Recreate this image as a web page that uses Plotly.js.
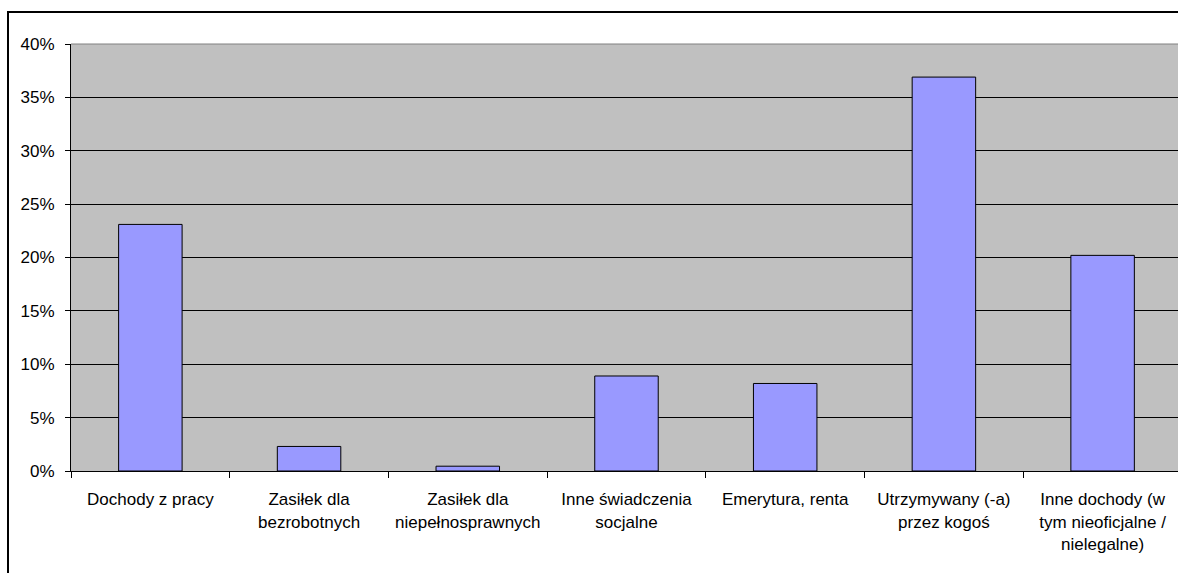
<!DOCTYPE html>
<html>
<head>
<meta charset="utf-8">
<script src="https://cdn.plot.ly/plotly-3.0.1.min.js"></script>
<style>
html, body { margin: 0; padding: 0; background: #ffffff; overflow: hidden; }
#frame { position: absolute; left: 7px; top: 11px; width: 1300px; height: 700px;
  border-left: 2px solid #000; border-top: 2px solid #000; pointer-events: none; }
#chart { position: absolute; left: 0; top: 0; width: 1178px; height: 573px; }
</style>
</head>
<body>
<div id="frame"></div>
<div id="chart"></div>
<script>
var categories = [
  "Dochody z pracy",
  "Zasiłek dla<br>bezrobotnych",
  "Zasiłek dla<br>niepełnosprawnych",
  "Inne świadczenia<br>socjalne",
  "Emerytura, renta",
  "Utrzymywany (-a)<br>przez kogoś",
  "Inne dochody (w<br>tym nieoficjalne /<br>nielegalne)"
];
var values = [23.1, 2.3, 0.45, 8.9, 8.2, 36.9, 20.2];
var yTicks = [0, 5, 10, 15, 20, 25, 30, 35, 40];

var trace = {
  type: 'bar',
  x: categories,
  y: values,
  width: 0.4,
  marker: { color: '#9999FF', line: { color: '#000000', width: 1 } },
  hoverinfo: 'none'
};

var layout = {
  width: 1178,
  height: 573,
  margin: { l: 71, r: 0, t: 44, b: 102 },
  paper_bgcolor: 'rgba(0,0,0,0)',
  plot_bgcolor: '#C0C0C0',
  showlegend: false,
  font: { family: 'Liberation Sans, Arial, sans-serif', size: 17, color: '#000' },
  xaxis: {
    type: 'category',
    range: [-0.5, 6.475],
    tickangle: 0,
    ticks: 'outside',
    tickson: 'boundaries',
    ticklen: 6,
    tickcolor: '#000',
    showline: true,
    linecolor: '#000',
    linewidth: 1,
    showgrid: false,
    tickfont: { size: 17 },
    ticklabelstandoff: 13,
    fixedrange: true
  },
  yaxis: {
    range: [0, 40],
    tickvals: yTicks,
    ticktext: yTicks.map(function (v) { return v + '%'; }),
    ticks: 'outside',
    ticklen: 5,
    tickcolor: '#000',
    showline: true,
    linecolor: '#000',
    linewidth: 1,
    showgrid: true,
    gridcolor: '#000',
    gridwidth: 1,
    zeroline: false,
    tickfont: { size: 17 },
    ticklabelstandoff: 7,
    fixedrange: true
  },
  shapes: [{
    type: 'line', xref: 'paper', yref: 'paper',
    x0: 0, x1: 1, y0: 1, y1: 1,
    line: { color: '#808080', width: 1 }
  }]
};

Plotly.newPlot('chart', [trace], layout, { displayModeBar: false, staticPlot: true });
</script>
</body>
</html>
